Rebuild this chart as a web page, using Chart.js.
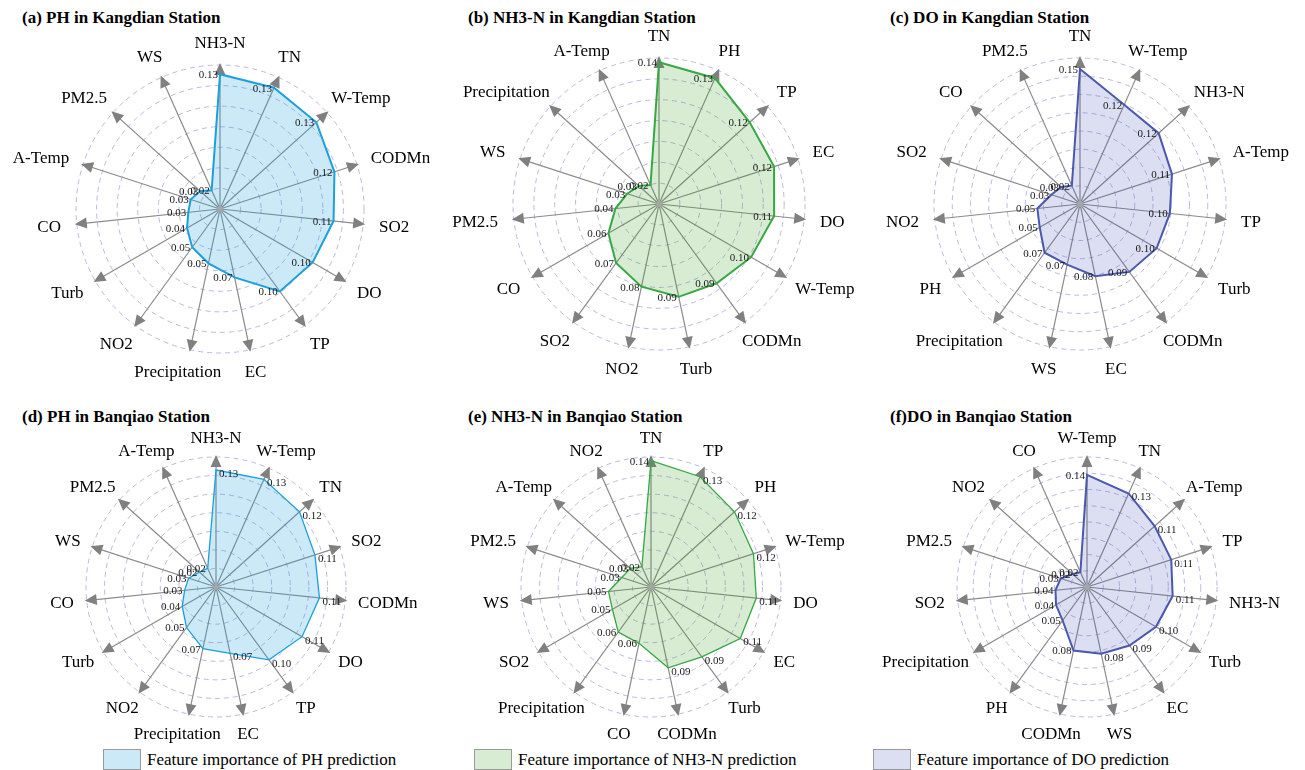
<!DOCTYPE html>
<html>
<head>
<meta charset="utf-8">
<script src="https://cdn.jsdelivr.net/npm/chart.js@4.4.1/dist/chart.umd.min.js"></script>
<style>
  html, body { margin: 0; padding: 0; background: #fff; }
  body { width: 1305px; height: 770px; position: relative; overflow: hidden;
         font-family: 'Liberation Serif', 'Times New Roman', serif; }
  canvas { position: absolute; }
  .title { position: absolute; font-weight: bold; font-size: 17px; line-height: 20px; white-space: nowrap; color: #000; }
  .legend { position: absolute; display: flex; align-items: center; font-size: 17px; white-space: nowrap; color: #000; }
  .legend .box { width: 36px; height: 19px; border: 1px solid #9a9a9a; margin-right: 6px; }
</style>
</head>
<body>

<div class="title" style="left:22px; top:8px;">(a) PH in Kangdian Station</div>
<div class="title" style="left:468px; top:8px;">(b) NH3-N in Kangdian Station</div>
<div class="title" style="left:890px; top:8px;">(c) DO in Kangdian Station</div>
<div class="title" style="left:22px; top:407px;">(d) PH in Banqiao Station</div>
<div class="title" style="left:468px; top:407px;">(e) NH3-N in Banqiao Station</div>
<div class="title" style="left:890px; top:407px;">(f)DO in Banqiao Station</div>

<div class="legend" style="left:103px; top:749px;"><div class="box" style="background:#cbe9f7"></div>Feature importance of PH prediction</div>
<div class="legend" style="left:474px; top:749px;"><div class="box" style="background:#d8ecd4"></div>Feature importance of NH3-N prediction</div>
<div class="legend" style="left:873px; top:749px;"><div class="box" style="background:#dcdff1"></div>Feature importance of DO prediction</div>

<canvas id="cA" width="440" height="440"></canvas>
<canvas id="cB" width="440" height="440"></canvas>
<canvas id="cC" width="440" height="440"></canvas>
<canvas id="cD" width="440" height="440"></canvas>
<canvas id="cE" width="440" height="440"></canvas>
<canvas id="cF" width="440" height="440"></canvas>

<script>
// (a) PH prediction, Kangdian station
const featuresA = ['NH3-N','TN','W-Temp','CODMn','SO2','DO','TP','EC','Precipitation','NO2','Turb','CO','A-Temp','PM2.5','WS'];
const importanceA = [0.131, 0.129, 0.126, 0.117, 0.111, 0.104, 0.099, 0.068, 0.054, 0.046, 0.037, 0.031, 0.030, 0.026, 0.020];

// (b) NH3-N prediction, Kangdian station
const featuresB = ['TN','PH','TP','EC','DO','W-Temp','CODMn','Turb','NO2','SO2','CO','PM2.5','WS','Precipitation','A-Temp'];
const importanceB = [0.136, 0.132, 0.117, 0.116, 0.111, 0.102, 0.094, 0.091, 0.081, 0.070, 0.056, 0.042, 0.032, 0.026, 0.020];

// (c) DO prediction, Kangdian station
const featuresC = ['TN','W-Temp','NH3-N','A-Temp','TP','Turb','CODMn','EC','WS','Precipitation','PH','NO2','SO2','CO','PM2.5'];
const importanceC = [0.148, 0.119, 0.116, 0.106, 0.099, 0.097, 0.092, 0.081, 0.068, 0.066, 0.051, 0.047, 0.033, 0.028, 0.022];

// (d) PH prediction, Banqiao station
const featuresD = ['NH3-N','W-Temp','TN','SO2','CODMn','DO','TP','EC','Precipitation','NO2','Turb','CO','WS','PM2.5','A-Temp'];
const importanceD = [0.126, 0.127, 0.121, 0.112, 0.112, 0.107, 0.097, 0.073, 0.068, 0.054, 0.042, 0.034, 0.031, 0.024, 0.022];

// (e) NH3-N prediction, Banqiao station
const featuresE = ['TN','TP','PH','W-Temp','DO','EC','Turb','CODMn','CO','Precipitation','SO2','WS','PM2.5','A-Temp','NO2'];
const importanceE = [0.136, 0.130, 0.121, 0.116, 0.114, 0.111, 0.093, 0.089, 0.062, 0.060, 0.048, 0.046, 0.033, 0.030, 0.024];

// (f) DO prediction, Banqiao station
const featuresF = ['W-Temp','TN','A-Temp','TP','NH3-N','Turb','EC','WS','CODMn','PH','Precipitation','SO2','PM2.5','NO2','CO'];
const importanceF = [0.138, 0.126, 0.112, 0.109, 0.106, 0.098, 0.089, 0.084, 0.080, 0.051, 0.044, 0.039, 0.034, 0.024, 0.020];

// radial axis extents and ring step
const axisMax = { A: 0.14, B: 0.14, C: 0.16, D: 0.14, E: 0.14, F: 0.16 };
const ringStep = 0.02;

const SERIF = "'Liberation Serif', 'Times New Roman', serif";

// Arrowheads on spokes, feature names around the rim, value tags beside each vertex
const radarDecor = {
  id: 'radarDecor',
  beforeDatasetsDraw(chart) {
    const s = chart.scales.r;
    const ctx = chart.ctx;
    const n = chart.data.labels.length;
    ctx.save();
    ctx.fillStyle = '#808080';
    for (let i = 0; i < n; i++) {
      const a = s.getIndexAngle(i) - Math.PI / 2;
      const p = s.getPointPosition(i, s.drawingArea + 2);
      ctx.save();
      ctx.translate(p.x, p.y);
      ctx.rotate(a);
      ctx.beginPath();
      ctx.moveTo(0, 0);
      ctx.lineTo(-12, -5.5);
      ctx.lineTo(-12, 5.5);
      ctx.closePath();
      ctx.fill();
      ctx.restore();
    }
    ctx.restore();
  },
  afterDatasetsDraw(chart, args, opts) {
    const s = chart.scales.r;
    const ctx = chart.ctx;
    const labels = chart.data.labels;
    const n = labels.length;
    const values = chart.data.datasets[0].data;
    const pts = chart.getDatasetMeta(0).data;

    ctx.save();
    // centre marker
    ctx.fillStyle = '#a6a6a6';
    ctx.beginPath();
    ctx.arc(s.xCenter, s.yCenter, 3, 0, Math.PI * 2);
    ctx.fill();

    // feature names
    ctx.font = '17px ' + SERIF;
    ctx.fillStyle = '#000';
    ctx.textAlign = 'center';
    ctx.textBaseline = 'middle';
    const re = s.drawingArea + (opts.labelGap || 13);
    const h = 13;
    for (let i = 0; i < n; i++) {
      const a = s.getIndexAngle(i) - Math.PI / 2;
      const dx = Math.cos(a), dy = Math.sin(a);
      const w = ctx.measureText(labels[i]).width;
      const x = s.xCenter + dx * re + dx * w / 2;
      const y = s.yCenter + dy * re + dy * h / 2;
      ctx.fillText(labels[i], x, y + 1);
    }

    // value tags
    ctx.font = '11px ' + SERIF;
    ctx.fillStyle = '#1a1a1a';
    ctx.textBaseline = 'middle';
    for (let i = 0; i < n; i++) {
      const txt = Number(values[i]).toFixed(2);
      const px = pts[i].x, py = pts[i].y;
      const deg = i * 360 / n;
      let side;
      if (opts.mode === 'inner') side = 'left';
      else if (deg === 0) side = opts.topSide || 'left';
      else side = deg <= 180 ? 'right' : 'left';
      if (side === 'left') {
        ctx.textAlign = 'right';
        ctx.fillText(txt, px - 2, py + 1);
      } else {
        ctx.textAlign = 'left';
        ctx.fillText(txt, px + 3, py + 4);
      }
    }
    ctx.restore();
  }
};

function makeRadar(id, cx, cy, R, labels, values, max, line, fill, lw, decor) {
  const cv = document.getElementById(id);
  const half = 220;
  cv.style.left = (cx - half) + 'px';
  cv.style.top = (cy - half) + 'px';
  const pad = half - R;
  return new Chart(cv, {
    type: 'radar',
    data: {
      labels: labels,
      datasets: [{
        data: values,
        borderColor: line,
        backgroundColor: fill,
        borderWidth: lw,
        pointRadius: 0,
        pointHoverRadius: 0,
        fill: true,
        tension: 0,
        clip: false
      }]
    },
    options: {
      responsive: false,
      animation: false,
      events: [],
      layout: { padding: pad },
      plugins: {
        legend: { display: false },
        tooltip: { enabled: false },
        radarDecor: decor
      },
      scales: {
        r: {
          min: 0,
          max: max,
          startAngle: 0,
          ticks: { display: false, stepSize: ringStep },
          grid: { circular: true, color: '#b8b8e4', lineWidth: 1 },
          border: { dash: [5, 4] },
          angleLines: { display: true, color: '#8a8a8a', lineWidth: 1.2 },
          pointLabels: { display: false }
        }
      }
    },
    plugins: [radarDecor]
  });
}

const PH_LINE = '#1c9fdc', PH_FILL = 'rgba(30,160,220,0.23)';
const NH_LINE = '#36a843', NH_FILL = 'rgba(60,160,40,0.20)';
const DO_LINE = '#4a58ae', DO_FILL = 'rgba(60,75,180,0.18)';

makeRadar('cA', 220, 209, 144, featuresA, importanceA, axisMax.A, PH_LINE, PH_FILL, 2, { mode: 'inner', labelGap: 16 });
makeRadar('cB', 659, 204, 146, featuresB, importanceB, axisMax.B, NH_LINE, NH_FILL, 2, { mode: 'inner', labelGap: 16 });
makeRadar('cC', 1080, 204, 146, featuresC, importanceC, axisMax.C, DO_LINE, DO_FILL, 2, { mode: 'inner', labelGap: 16 });
makeRadar('cD', 216, 587, 130, featuresD, importanceD, axisMax.D, PH_LINE, PH_FILL, 1.3, { mode: 'split', topSide: 'right', labelGap: 13 });
makeRadar('cE', 651, 587, 130, featuresE, importanceE, axisMax.E, NH_LINE, NH_FILL, 1.3, { mode: 'split', topSide: 'left', labelGap: 13 });
makeRadar('cF', 1087, 587, 130, featuresF, importanceF, axisMax.F, DO_LINE, DO_FILL, 2, { mode: 'split', topSide: 'left', labelGap: 13 });
</script>
</body>
</html>
